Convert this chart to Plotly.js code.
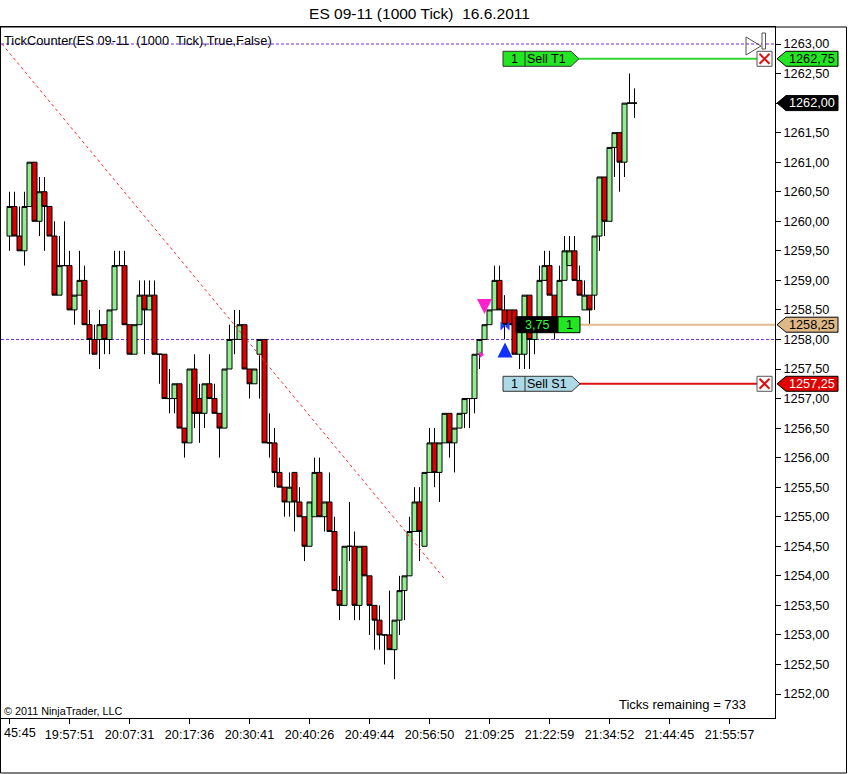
<!DOCTYPE html>
<html>
<head>
<meta charset="utf-8">
<script src="https://cdn.plot.ly/plotly-3.0.1.min.js"></script>
<style>html,body{margin:0;padding:0;background:#fff;}#chart{width:848px;height:774px;}</style>
</head>
<body>
<div id="chart"></div>
<script>
// ---------- data ----------
const barOpen = [1259.75,1260.25,1259.75,1259.50,1260.25,1261.00,1260.00,1260.50,1260.25,1259.75,
1258.75,1259.25,1259.25,1258.50,1258.75,1259.00,1258.25,1258.00,1258.00,1258.25,
1258.00,1258.50,1259.25,1259.25,1258.25,1257.75,1258.25,1258.75,1258.50,1258.75,
1257.75,1257.75,1257.00,1257.00,1257.25,1256.50,1256.25,1257.50,1257.00,1256.75,
1257.25,1257.00,1256.75,1256.50,1257.50,1258.00,1258.00,1258.25,1257.50,1257.25,
1257.75,1258.00,1256.25,1256.25,1255.75,1255.50,1255.25,1255.75,1255.25,1255.00,
1254.50,1255.00,1255.75,1255.00,1255.25,1254.75,1253.75,1253.50,1254.50,1254.50,
1253.50,1254.50,1254.00,1253.50,1253.25,1253.00,1253.00,1252.75,1253.25,1253.75,
1254.00,1254.75,1255.25,1254.50,1255.75,1256.25,1255.75,1256.25,1256.75,1256.25,
1256.50,1256.75,1257.00,1257.00,1257.75,1258.00,1258.25,1258.50,1259.00,1258.50,
1258.50,1258.50,1257.75,1257.75,1258.75,1258.00,1258.25,1259.00,1259.25,1258.75,
1258.25,1259.00,1259.25,1259.50,1259.00,1258.50,1258.75,1258.75,1259.75,1260.75,
1260.00,1261.25,1261.50,1261.00,1262.00,1262.00];
const barHigh = [1260.50,1260.50,1260.25,1260.50,1261.00,1261.00,1260.75,1260.75,1260.25,1260.00,
1259.75,1260.00,1259.50,1258.75,1259.50,1259.25,1258.50,1258.25,1258.50,1258.25,
1258.50,1259.50,1259.50,1259.50,1258.25,1258.25,1259.00,1259.00,1259.00,1259.00,
1257.75,1257.75,1257.50,1257.25,1257.25,1256.50,1257.50,1257.75,1257.25,1257.25,
1257.75,1257.25,1256.75,1257.50,1258.25,1258.50,1258.50,1258.25,1257.50,1257.50,
1258.00,1258.00,1256.75,1256.50,1256.00,1255.50,1255.75,1255.75,1255.50,1255.00,
1255.25,1256.00,1256.00,1255.25,1255.75,1255.00,1254.00,1254.50,1255.25,1254.75,
1254.50,1254.50,1254.00,1253.50,1253.50,1253.00,1253.75,1253.25,1254.00,1254.00,
1255.00,1255.50,1255.50,1255.75,1256.50,1256.50,1256.25,1256.75,1256.75,1256.50,
1256.75,1257.00,1257.00,1257.75,1258.00,1258.25,1258.50,1259.25,1259.25,1258.75,
1258.50,1258.50,1258.25,1258.75,1258.75,1258.25,1259.25,1259.50,1259.50,1258.75,
1259.25,1259.75,1259.75,1259.75,1259.25,1259.00,1258.75,1259.75,1260.75,1260.75,
1261.25,1261.50,1261.50,1262.00,1262.50,1262.25];
const barLow = [1259.50,1259.75,1259.50,1259.25,1260.25,1260.00,1259.75,1259.50,1259.75,1258.75,
1258.75,1259.25,1258.50,1258.25,1258.75,1258.25,1257.75,1257.75,1257.50,1257.75,
1257.75,1258.50,1259.25,1258.25,1257.75,1257.75,1258.25,1257.75,1258.50,1257.75,
1257.25,1257.00,1256.75,1256.75,1256.50,1256.00,1256.25,1256.50,1256.25,1256.50,
1257.00,1256.75,1256.00,1256.50,1257.50,1257.75,1258.00,1257.50,1257.00,1257.25,
1257.00,1256.25,1256.00,1255.50,1255.50,1255.00,1255.00,1254.75,1255.00,1254.25,
1254.50,1255.00,1255.00,1254.75,1254.75,1253.75,1253.25,1253.50,1254.25,1253.25,
1253.25,1254.00,1253.00,1252.75,1252.75,1252.50,1252.75,1252.25,1253.00,1253.25,
1254.00,1254.75,1254.25,1254.50,1255.75,1255.50,1255.25,1256.25,1256.00,1255.75,
1256.50,1256.50,1256.50,1256.75,1257.50,1258.00,1258.25,1258.50,1258.50,1258.00,
1258.25,1257.75,1257.50,1257.50,1257.50,1257.75,1258.25,1259.00,1258.75,1258.00,
1258.25,1259.00,1259.25,1259.00,1258.75,1258.50,1258.25,1258.50,1259.50,1259.75,
1260.00,1260.75,1260.50,1260.75,1262.00,1261.75];
const barClose = [1260.25,1259.75,1259.50,1260.25,1261.00,1260.00,1260.50,1260.25,1259.75,1258.75,
1259.25,1259.25,1258.50,1258.75,1259.00,1258.25,1258.00,1257.75,1258.25,1258.00,
1258.50,1259.25,1259.25,1258.25,1257.75,1258.25,1258.75,1258.50,1258.75,1257.75,
1257.75,1257.00,1257.00,1257.25,1256.50,1256.25,1257.50,1256.75,1256.75,1257.25,
1257.00,1256.75,1256.50,1257.50,1258.00,1258.00,1258.25,1257.50,1257.25,1257.50,
1258.00,1256.25,1256.25,1255.75,1255.50,1255.25,1255.50,1255.25,1255.00,1254.50,
1255.25,1255.75,1255.00,1255.25,1254.75,1253.75,1253.50,1254.50,1254.50,1253.50,
1254.50,1254.00,1253.50,1253.25,1253.00,1253.00,1252.75,1253.25,1253.75,1254.00,
1254.75,1255.25,1254.75,1255.75,1256.25,1255.75,1256.25,1256.75,1256.25,1256.50,
1256.75,1257.00,1257.00,1257.75,1258.00,1258.25,1258.50,1259.00,1258.50,1258.25,
1258.25,1257.75,1258.25,1258.75,1258.00,1258.25,1259.00,1259.25,1258.75,1258.25,
1259.00,1259.50,1259.50,1259.00,1258.75,1258.75,1258.50,1259.75,1260.75,1260.00,
1261.25,1261.50,1261.00,1262.00,1262.00,1262.00];
const barIndex = barOpen.map((_, i) => i);

const xTickIndex = [0, 12, 24, 36, 48, 60, 72, 84, 96, 108, 120, 132, 144];
// first label is shown cut at the chart's left edge, as in the original
const xTickLabels = ["45:45","19:57:51","20:07:31","20:17:36","20:30:41","20:40:26",
  "20:49:44","20:56:50","21:09:25","21:22:59","21:34:52","21:44:45","21:55:57"];
const yTickVals = [1252.0,1252.5,1253.0,1253.5,1254.0,1254.5,1255.0,1255.5,1256.0,1256.5,
  1257.0,1257.5,1258.0,1258.5,1259.0,1259.5,1260.0,1260.5,1261.0,1261.5,1262.0,1262.5,1263.0];
const yTickLabels = ["1252,00","1252,50","1253,00","1253,50","1254,00","1254,50","1255,00",
  "1255,50","1256,00","1256,50","1257,00","1257,50","1258,00","1258,50","1259,00","1259,50",
  "1260,00","1260,50","1261,00","1261,50","1262,00","1262,50","1263,00"];

const targetPrice = 1262.75;   // Sell T1
const stopPrice = 1257.25;     // Sell S1
const entryPrice = 1258.25;    // position
const lastPrice = 1262.00;
const openPnl = "3,75";
const ticksRemaining = 733;
const purpleLevels = [1263.00, 1258.00];
const trendX = [-1.5, 86.9];
const trendY = [1263.00, 1253.96];
// execution / signal markers
const sellArrowX = 95, sellArrowY = 1258.43;
const entryTriX = [94.3], entryTriY = [1257.74];
const bowX = [99.1], bowY = [1258.23];
const buyArrowX = 99.1, buyArrowY = 1257.95;

function fmt(p) { return p.toFixed(2).replace('.', ','); }

// ---------- geometry helpers (pixel -> paper) ----------
const PL = 1, PR = 775, PT = 27, PB = 718;
const Y0 = 1251.594, Y1 = 1263.288;
const XR0 = (PL - 9.5) / 5, XR1 = (PR - 9.5) / 5;
const px = x => (x - PL) / (PR - PL);
const py = y => (PB - y) / (PB - PT);
const yP = p => (p - Y0) / (Y1 - Y0);
const hy = h => h / (PB - PT);

const FONT = 'Liberation Sans, Arial, sans-serif';
const shapes = [];
const annotations = [];

// outer frame
shapes.push({type:'rect', xref:'paper', yref:'paper', x0:px(0.5), x1:px(846.5), y0:py(773), y1:py(27),
  line:{color:'#000', width:1}, fillcolor:'rgba(0,0,0,0)', layer:'above'});

// purple horizontal levels
purpleLevels.forEach(p => shapes.push({type:'line', xref:'paper', yref:'paper', x0:0, x1:1, y0:yP(p), y1:yP(p),
  line:{color:'#6a2ee0', width:1, dash:'3px,2px'}, layer:'below'}));

// order lines
shapes.push({type:'line', xref:'paper', yref:'paper', x0:px(578), x1:px(757), y0:yP(targetPrice), y1:yP(targetPrice),
  line:{color:'#33d633', width:2}});
shapes.push({type:'line', xref:'paper', yref:'paper', x0:px(578), x1:px(757), y0:yP(stopPrice), y1:yP(stopPrice),
  line:{color:'#dd1111', width:2}});
shapes.push({type:'line', xref:'paper', yref:'paper', x0:px(580), x1:px(775), y0:yP(entryPrice), y1:yP(entryPrice),
  line:{color:'#e2bb8a', width:2}});

function rightTag(x0, x1, price, fill) {
  const yc = yP(price), d = hy(7.5);
  return {type:'path', xref:'paper', yref:'paper',
    path:`M${px(x0)},${yc+d} L${px(x1-8)},${yc+d} L${px(x1)},${yc} L${px(x1-8)},${yc-d} L${px(x0)},${yc-d} Z`,
    fillcolor:fill, line:{color:'#333', width:1}};
}
function axisTag(price, fill) {
  const yc = yP(price), d = hy(7.5);
  return {type:'path', xref:'paper', yref:'paper',
    path:`M${px(777)},${yc} L${px(786)},${yc+d} L${px(838)},${yc+d} L${px(838)},${yc-d} L${px(786)},${yc-d} Z`,
    fillcolor:fill, line:{color:'#000', width:1}};
}
function vline(x, price) {
  const yc = yP(price), d = hy(7.5);
  return {type:'line', xref:'paper', yref:'paper', x0:px(x), x1:px(x), y0:yc-d, y1:yc+d, line:{color:'#333', width:1}};
}
function xBox(price) {
  const yc = yP(price), d = hy(7.5);
  shapes.push({type:'rect', xref:'paper', yref:'paper', x0:px(757), x1:px(772), y0:yc-d, y1:yc+d,
    fillcolor:'#fff', line:{color:'#555', width:1}});
  const e = hy(5);
  shapes.push({type:'line', xref:'paper', yref:'paper', x0:px(759.5), x1:px(769.5), y0:yc-e, y1:yc+e, line:{color:'#e01010', width:2}});
  shapes.push({type:'line', xref:'paper', yref:'paper', x0:px(759.5), x1:px(769.5), y0:yc+e, y1:yc-e, line:{color:'#e01010', width:2}});
}

// order tags in chart
shapes.push(rightTag(503, 579, targetPrice, '#22e622'));
shapes.push(vline(525, targetPrice));
shapes.push(rightTag(503, 580, stopPrice, '#add8e6'));
shapes.push(vline(525, stopPrice));
xBox(targetPrice);
xBox(stopPrice);
// position box
{
  const yc = yP(entryPrice), d = hy(8);
  shapes.push({type:'rect', xref:'paper', yref:'paper', x0:px(516), x1:px(558), y0:yc-d, y1:yc+d,
    fillcolor:'#000', line:{color:'#000', width:1}});
  shapes.push({type:'rect', xref:'paper', yref:'paper', x0:px(558), x1:px(580), y0:yc-d, y1:yc+d,
    fillcolor:'#22e622', line:{color:'#000', width:1}});
}
// axis price tags
shapes.push(axisTag(targetPrice, '#22e622'));
shapes.push(axisTag(lastPrice, '#000'));
shapes.push(axisTag(entryPrice, '#deb887'));
shapes.push(axisTag(stopPrice, '#e00000'));

// top-right chart trader glyphs
shapes.push({type:'path', xref:'paper', yref:'paper',
  path:`M${px(746)},${py(37)} L${px(746)},${py(55)} L${px(761)},${py(46)} Z`,
  fillcolor:'rgba(255,255,255,0)', line:{color:'#555', width:1}});
shapes.push({type:'rect', xref:'paper', yref:'paper', x0:px(762), x1:px(765.5), y0:py(49), y1:py(33),
  fillcolor:'#fff', line:{color:'#555', width:1}});

// texts
const txt = (t, x, y, size, color, anchor) => annotations.push({text:t, xref:'paper', yref:'paper',
  x:x, y:y, xanchor:anchor || 'left', yanchor:'middle', showarrow:false,
  font:{family:FONT, size:size, color:color || '#000'}});
txt('TickCounter(ES 09-11  (1000  Tick),True,False)', px(2), py(40), 12.8);
txt('© 2011 NinjaTrader, LLC', px(2), py(711), 10.8);
txt('Ticks remaining = ' + ticksRemaining, px(682.5), py(704), 13, '#000', 'center');
txt('1', px(514), yP(targetPrice), 12.5, '#000', 'center');
txt('Sell T1', px(546), yP(targetPrice), 12.5, '#000', 'center');
txt('1', px(514), yP(stopPrice), 12.5, '#000', 'center');
txt('Sell S1', px(547), yP(stopPrice), 12.5, '#000', 'center');
txt(openPnl, px(537), yP(entryPrice), 12.5, '#33ff33', 'center');
txt('1', px(569), yP(entryPrice), 12.5, '#000', 'center');
txt(fmt(targetPrice), px(812), yP(targetPrice), 12.7, '#000', 'center');
txt(fmt(lastPrice), px(812), yP(lastPrice), 12.7, '#fff', 'center');
txt(fmt(entryPrice), px(812), yP(entryPrice), 12.7, '#000', 'center');
txt(fmt(stopPrice), px(812), yP(stopPrice), 12.7, '#fff', 'center');
// first time label, left-aligned at the chart edge
txt(xTickLabels[0], px(1.5), py(733), 12.7, '#000', 'left');

// execution arrows (thick arrows drawn by annotation arrows)
annotations.push({x:sellArrowX, y:sellArrowY, xref:'x', yref:'y', text:'', showarrow:true,
  ax:0, ay:-13, arrowhead:2, arrowsize:1, arrowwidth:3, arrowcolor:'#ff22cc', standoff:0});
annotations.push({x:buyArrowX, y:buyArrowY, xref:'x', yref:'y', text:'', showarrow:true,
  ax:0, ay:14, arrowhead:2, arrowsize:1, arrowwidth:3, arrowcolor:'#1030ff', standoff:0});

// the last-price tag covers the regular tick label at that level
const yTickShown = yTickLabels.map((t, i) => yTickVals[i] === lastPrice ? '' : t);
const xTickShown = xTickLabels.map((t, i) => i === 0 ? '' : t);

// ---------- traces ----------
const traces = [
  {type:'scatter', mode:'lines', x:trendX, y:trendY, line:{color:'#ff2a2a', width:1, dash:'dot'},
   hoverinfo:'skip', showlegend:false},
  {type:'candlestick', x:barIndex, open:barOpen, high:barHigh, low:barLow, close:barClose,
   increasing:{line:{color:'#000', width:1}, fillcolor:'#90ee90'},
   decreasing:{line:{color:'#000', width:1}, fillcolor:'#dd0000'},
   whiskerwidth:0, hoverinfo:'skip', showlegend:false},
  {type:'scatter', mode:'markers', x:entryTriX, y:entryTriY, marker:{symbol:'triangle-right', size:6, color:'#ff22cc'},
   hoverinfo:'skip', showlegend:false},
  {type:'scatter', mode:'markers', x:bowX, y:bowY, marker:{symbol:'bowtie', size:9, color:'#2040ff'},
   hoverinfo:'skip', showlegend:false}
];

const layout = {
  width:848, height:774,
  margin:{l:PL, r:848-PR, t:PT, b:774-PB, pad:0},
  paper_bgcolor:'#fff', plot_bgcolor:'#fff',
  showlegend:false,
  boxgap:0, boxgroupgap:0,
  title:{text:'ES 09-11 (1000 Tick)&nbsp; 16.6.2011', font:{family:FONT, size:15.5, color:'#000'},
    x:419.5/848, xref:'container', xanchor:'center', y:1-13.5/774, yref:'container', yanchor:'middle'},
  xaxis:{range:[XR0, XR1], type:'linear', rangeslider:{visible:false}, showgrid:false, zeroline:false,
    showline:true, mirror:true, linecolor:'#000', linewidth:1,
    tickmode:'array', tickvals:xTickIndex, ticktext:xTickShown, ticks:'outside', ticklen:5, tickcolor:'#000',
    tickfont:{family:FONT, size:12.7, color:'#000'}, fixedrange:true},
  yaxis:{range:[Y0, Y1], side:'right', showgrid:false, zeroline:false,
    showline:true, mirror:true, linecolor:'#000', linewidth:1,
    tickmode:'array', tickvals:yTickVals, ticktext:yTickShown, ticks:'outside', ticklen:5, tickcolor:'#000',
    tickfont:{family:FONT, size:12.7, color:'#000'}, fixedrange:true},
  shapes:shapes,
  annotations:annotations
};

Plotly.newPlot('chart', traces, layout, {displayModeBar:false, staticPlot:true});
</script>
</body>
</html>
